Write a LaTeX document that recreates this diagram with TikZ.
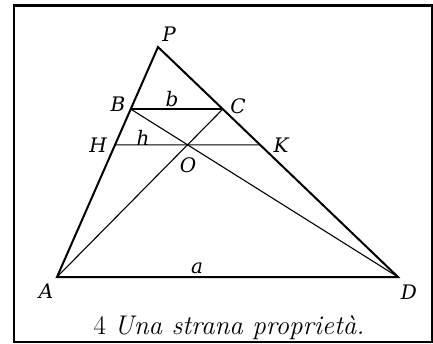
\documentclass[tikz,border=0pt]{standalone}
\usepackage{fontspec}
\newfontfamily\labfont{DejaVu Serif}
\usetikzlibrary{calc}
\begin{document}
\begin{tikzpicture}[x=1pt,y=-1pt,
  thickln/.style={line width=2pt,line join=miter},
  thinln/.style={line width=1.1pt},
  lab/.style={font=\labfont\fontsize{20}{22}\selectfont\itshape, inner sep=0pt}]
\useasboundingbox (0,0) rectangle (433,344);
\draw[line width=2.4pt] (14,5.5) rectangle (431.8,341.8);
\coordinate (P) at (158,47);
\coordinate (A) at (57,277);
\coordinate (D) at (398,277);
\coordinate (B) at ($(A)!0.73!(P)$);
\coordinate (C) at ($(D)!0.73!(P)$);
\coordinate (O) at (intersection of A--C and B--D);
\coordinate (O2) at ($(O)+(10,0)$);
\coordinate (H) at (intersection of A--P and O--O2);
\coordinate (K) at (intersection of D--P and O--O2);
% thin lines
\draw[thinln] (A) -- (C);
\draw[thinln] (B) -- (D);
\draw[thinln] (H) -- (K);
% thick lines
\draw[thickln] (A) -- (P) -- (D) -- cycle;
\draw[thickln] (B) -- (C);
% labels
\node[lab] (lP) at (169,34) {P};
\node[lab] (lB) at (118,104) {B};
\node[lab] (lb) at (172,99) {b};
\node[lab] (lC) at (238,106) {C};
\node[lab] (lH) at (98,145) {H};
\node[lab] (lh) at (143,138) {h};
\node[lab] (lK) at (281,145) {K};
\node[lab] (lO) at (188,165) {O};
\node[lab] (la) at (197,268) {a};
\node[lab] (lA) at (46,291) {A};
\node[lab] (lD) at (409,292) {D};
\node[inner sep=0pt,font=\fontsize{27}{30}\selectfont] (cap) at (229,328) {4 \textit{Una strana propriet\`a.}};
\end{tikzpicture}
\end{document}
